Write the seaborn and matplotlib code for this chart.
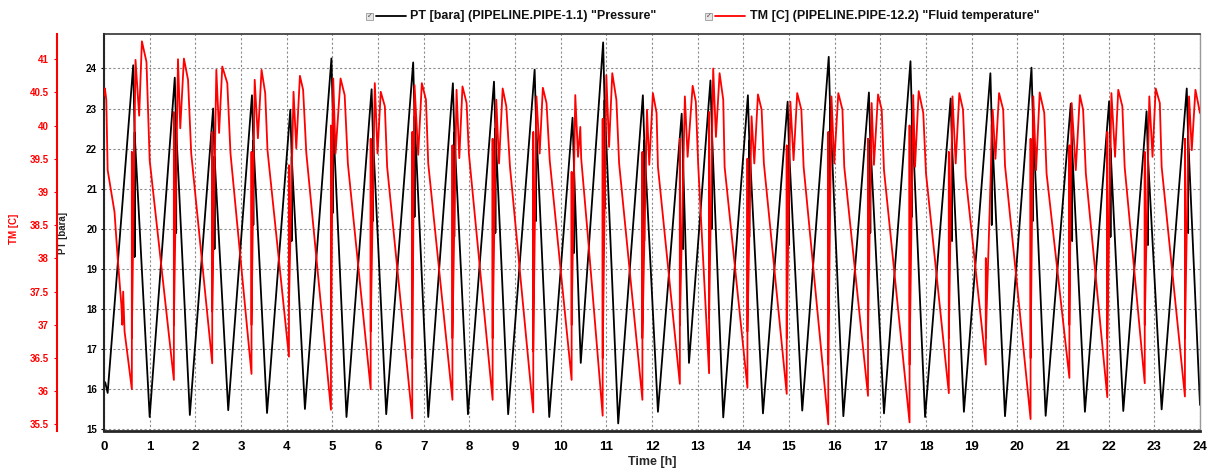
import numpy as np
import pandas as pd
import matplotlib
matplotlib.use("Agg")
import matplotlib.pyplot as plt
from matplotlib.lines import Line2D
from matplotlib.patches import Rectangle
import seaborn as sns

# Valores (tiempo en horas)

# PT [bara] - tramo inicial, valles, picos y caída tras el pico
pt_start_t = [0.00, 0.03]
pt_start_v = [16.2, 16.15]
pt_low_t = [0.08, 1.00, 1.88, 2.72, 3.57, 4.40, 5.31, 6.18, 7.10, 7.97, 8.85, 9.75, 10.44, 11.26,
            12.13, 12.81, 13.56, 14.43, 15.29, 16.19, 17.08, 17.98, 18.83, 19.73, 20.62, 21.48, 22.32, 23.16]
pt_low_v = [15.9, 15.3, 15.35, 15.47, 15.4, 15.5, 15.3, 15.37, 15.3, 15.37, 15.37, 15.3, 16.65, 15.14,
            15.43, 16.65, 15.29, 15.39, 15.46, 15.32, 15.39, 15.3, 15.43, 15.32, 15.33, 15.43, 15.45, 15.49]
pt_high_t = [0.64, 1.55, 2.39, 3.24, 4.08, 4.98, 5.86, 6.77, 7.64, 8.54, 9.43, 10.26, 10.93, 11.80,
             12.65, 13.28, 14.10, 14.97, 15.87, 16.75, 17.66, 18.54, 19.41, 20.31, 21.17, 22.01, 22.83, 23.71]
pt_high_v = [24.08, 23.77, 23.0, 23.33, 22.97, 24.25, 23.48, 24.15, 23.63, 23.67, 23.97, 22.77, 24.65, 23.33,
             22.87, 23.7, 23.33, 23.17, 24.29, 23.4, 24.18, 23.25, 23.88, 24.02, 23.12, 23.18, 22.93, 23.5]
pt_drop_t = [0.67, 1.58, 2.42, 3.27, 4.11, 5.01, 5.89, 6.80, 7.67, 8.57, 9.46, 10.29, 10.96, 11.83,
             12.68, 13.31, 14.13, 15.00, 15.90, 16.78, 17.69, 18.57, 19.44, 20.34, 21.20, 22.04, 22.86, 23.74]
pt_drop_top = [22.4, 22.5, 21.8, 22.2, 21.8, 22.9, 22.3, 22.8, 22.4, 22.5, 22.7, 21.6, 23.2, 22.2,
               21.7, 22.5, 22.2, 22.0, 23.0, 22.2, 22.9, 22.1, 22.6, 22.8, 22.0, 22.0, 21.8, 22.3]
pt_drop_bot = [19.3, 19.9, 19.5, 20.1, 19.7, 20.4, 20.2, 20.3, 19.8, 19.9, 20.2, 19.4, 20.5, 19.7,
               19.5, 20.0, 19.8, 19.6, 20.4, 19.9, 20.3, 19.7, 20.1, 20.2, 19.7, 19.8, 19.6, 19.9]
pt_end_t = [24.0]
pt_end_v = [15.6]

# TM [C] - tramo inicial y rasgos de cada ciclo
tm_start_t = [0.00, 0.02, 0.05, 0.08, 0.23, 0.30, 0.38, 0.40, 0.42, 0.45]
tm_start_v = [40.45, 40.56, 40.39, 39.33, 38.7, 38.0, 37.3, 37.0, 37.5, 36.9]
tm_low_t = [0.61, 1.53, 2.37, 3.23, 4.05, 4.97, 5.84, 6.75, 7.63, 8.51, 9.40, 10.24, 10.92, 11.79,
            12.61, 13.25, 14.09, 14.95, 15.86, 16.73, 17.64, 18.50, 19.31, 20.29, 21.14, 21.97, 22.79, 23.67]
tm_low_v = [36.03, 36.17, 36.42, 36.26, 36.52, 35.72, 36.03, 35.59, 35.87, 35.87, 35.68, 36.17, 35.63, 35.87,
            36.11, 36.27, 36.05, 35.96, 35.50, 35.93, 35.53, 35.97, 36.40, 35.58, 36.20, 35.91, 36.12, 35.92]
tm_pre_v = [39.6, 40.2, 39.9, 39.6, 39.4, 40.0, 39.8, 39.9, 39.7, 39.8, 39.9, 39.3, 40.1, 39.6,
            39.8, 40.2, 39.5, 39.7, 39.9, 39.8, 40.0, 39.6, 38.0, 39.8, 39.7, 39.9, 39.6, 39.8]
tm_back_v = [36.8, 37.0, 37.2, 37.0, 37.3, 36.6, 36.9, 36.5, 36.8, 36.8, 36.6, 37.0, 36.5, 36.8,
             37.0, 37.1, 36.9, 36.8, 36.4, 36.8, 36.4, 36.8, 36.8, 36.5, 37.0, 36.8, 37.0, 36.8]
tm_spike_t = [0.69, 1.62, 2.46, 3.30, 4.15, 5.02, 5.93, 6.80, 7.72, 8.59, 9.47, 10.32, 11.00, 11.89,
              12.72, 13.34, 14.18, 15.03, 15.93, 16.81, 17.72, 18.58, 19.46, 20.35, 21.19, 22.06, 22.89, 23.76]
tm_spike_v = [40.99, 41.00, 40.84, 40.69, 40.51, 40.71, 40.64, 40.61, 40.54, 40.39, 40.44, 40.46, 40.76, 40.24,
              40.44, 40.86, 40.14, 40.36, 40.44, 40.34, 40.46, 40.44, 40.24, 40.44, 40.34, 40.49, 40.44, 40.44]
tm_dip_t = [0.77, 1.67, 2.52, 3.37, 4.21, 5.07, 5.99, 6.88, 7.78, 8.65, 9.54, 10.38, 11.06, 11.94,
            12.78, 13.40, 14.24, 15.10, 15.99, 16.86, 17.76, 18.65, 19.52, 20.41, 21.28, 22.14, 22.96, 23.82]
tm_dip_v = [40.15, 39.96, 39.89, 39.81, 39.66, 39.58, 39.58, 39.56, 39.51, 39.43, 39.58, 39.53, 39.68, 39.41,
            39.53, 39.83, 39.43, 39.48, 39.43, 39.41, 39.38, 39.43, 39.50, 39.33, 39.33, 39.53, 39.53, 39.63]
tm_hump_t = [0.83, 1.75, 2.59, 3.45, 4.29, 5.18, 6.06, 6.96, 7.85, 8.73, 9.61, 10.43, 11.13, 12.02,
             12.89, 13.48, 14.32, 15.18, 16.08, 16.95, 17.84, 18.73, 19.60, 20.49, 21.37, 22.21, 23.03, 23.90]
tm_hump_v = [41.27, 41.01, 40.89, 40.84, 40.75, 40.71, 40.51, 40.64, 40.59, 40.56, 40.57, 39.98, 40.79, 40.49,
             40.60, 40.79, 40.47, 40.49, 40.49, 40.47, 40.52, 40.49, 40.49, 40.50, 40.46, 40.54, 40.56, 40.54]
tm_shoulder_t = [0.93, 1.84, 2.70, 3.53, 4.36, 5.27, 6.15, 7.05, 7.94, 8.81, 9.69, 10.45, 11.22, 12.10,
                 12.96, 13.56, 14.40, 15.27, 16.17, 17.03, 17.94, 18.81, 19.69, 20.59, 21.44, 22.30, 23.12, 24.00]
tm_shoulder_v = [40.96, 40.69, 40.64, 40.49, 40.54, 40.46, 40.29, 40.39, 40.34, 40.29, 40.34, 39.50, 40.39, 40.19,
                 40.36, 40.39, 40.24, 40.24, 40.24, 40.24, 40.19, 40.24, 40.24, 40.19, 40.24, 40.29, 40.34, 40.19]
tm_drop_t = [1.00, 1.91, 2.77, 3.58, 4.43, 5.34, 6.20, 7.10, 7.99, 8.89, 9.76, 10.60, 11.28, 12.13,
             13.01, 13.59, 14.45, 15.32, 16.21, 17.08, 18.00, 18.87, 19.73, 20.64, 21.50, 22.35, 23.16]
tm_drop_v = [39.48, 39.58, 39.58, 39.63, 39.59, 39.43, 39.38, 39.43, 39.58, 39.38, 39.48, 38.30, 39.43, 39.38,
             39.43, 39.38, 39.43, 39.38, 39.38, 39.33, 39.28, 39.23, 39.40, 39.28, 39.28, 39.38, 39.38]

pt_ticks = [15, 16, 17, 18, 19, 20, 21, 22, 23, 24]
tm_ticks = [35.5, 36, 36.5, 37, 37.5, 38, 38.5, 39, 39.5, 40, 40.5, 41]
hours = list(range(25))

# Armar las series en orden
pt_t = list(pt_start_t)
pt_v = list(pt_start_v)
for i in range(len(pt_low_t)):
    pt_t += [pt_low_t[i], pt_high_t[i], pt_drop_t[i], pt_drop_t[i], pt_drop_t[i]]
    pt_v += [pt_low_v[i], pt_high_v[i], pt_drop_top[i], pt_drop_bot[i], pt_drop_top[i]]
pt_t += pt_end_t
pt_v += pt_end_v
df_pt = pd.DataFrame({"time": pt_t, "PT": pt_v})

tm_t = list(tm_start_t)
tm_v = list(tm_start_v)
for i in range(len(tm_low_t)):
    tm_t += [tm_low_t[i], tm_low_t[i], tm_low_t[i], tm_spike_t[i],
             tm_dip_t[i], tm_hump_t[i], tm_shoulder_t[i]]
    tm_v += [tm_low_v[i], tm_pre_v[i], tm_back_v[i], tm_spike_v[i],
             tm_dip_v[i], tm_hump_v[i], tm_shoulder_v[i]]
    if i < len(tm_drop_t):
        tm_t.append(tm_drop_t[i])
        tm_v.append(tm_drop_v[i])
df_tm = pd.DataFrame({"time": tm_t, "TM": tm_v})

sns.set_style("white")
plt.rcParams['font.family'] = ['Liberation Sans', 'DejaVu Sans']
plt.rcParams['font.weight'] = 'bold'

W, H = 1211, 472
fig = plt.figure(figsize=(W / 100, H / 100), dpi=100)
ax = fig.add_axes([104 / W, 1 - 431 / H, 1096 / W, 397 / H])
ax2 = ax.twinx()

sns.lineplot(data=df_pt, x="time", y="PT", ax=ax, color="black", linewidth=1.3,
             estimator=None, sort=False)
sns.lineplot(data=df_tm, x="time", y="TM", ax=ax2, color="#ff0000", linewidth=1.3,
             estimator=None, sort=False)

# Eje principal (PT)
ax.set_xlim(0, 24)
ax.set_ylim(14.95, 24.86)
ax.set_xticks(hours)
ax.set_yticks(pt_ticks)
ax.grid(True, color="#8c8c8c", linestyle=(0, (2, 2)), linewidth=0.8)
ax.set_axisbelow(True)
ax.tick_params(axis="x", labelsize=9.5, length=3, pad=4, colors="black")
ax.tick_params(axis="y", labelsize=7, length=2, pad=3, colors="black")
for lab in ax.get_xticklabels() + ax.get_yticklabels():
    lab.set_fontweight("bold")
ax.set_xlabel("Time [h]", fontsize=9, fontweight="bold", labelpad=2)
ax.set_ylabel("PT [bara]", fontsize=7, fontweight="bold")
ax.yaxis.set_label_coords(-36 / 1096, 0.5)
ax.spines["left"].set_linewidth(1.5)
ax.spines["bottom"].set_linewidth(2)
ax.spines["top"].set_color("#333333")
ax.spines["top"].set_linewidth(1.2)
ax.spines["right"].set_color("#999999")
ax.spines["right"].set_linewidth(1)

# Eje secundario (TM) a la izquierda
ax2.set_ylim(35.4, 41.38)
ax2.set_yticks(tm_ticks)
ax2.set_yticklabels(["{:g}".format(v) for v in tm_ticks])
ax2.yaxis.tick_left()
ax2.yaxis.set_label_position("left")
ax2.spines["left"].set_position(("axes", -47 / 1096))
ax2.spines["left"].set_visible(True)
ax2.spines["left"].set_color("#ff0000")
ax2.spines["left"].set_linewidth(1.5)
for s in ["right", "top", "bottom"]:
    ax2.spines[s].set_visible(False)
ax2.tick_params(axis="y", labelsize=7, length=2, pad=4, colors="#ff0000")
for lab in ax2.get_yticklabels():
    lab.set_fontweight("bold")
ax2.set_ylabel("TM [C]", fontsize=7, fontweight="bold", color="#ff0000")
ax2.yaxis.set_label_coords(-85 / 1096, 0.51)

# Leyenda superior con casillas
ly = 1 - 16 / H
for bx, lx0, lx1, tx, col, txt in [
    (366, 376, 406, 410, "black", 'PT [bara] (PIPELINE.PIPE-1.1) "Pressure"'),
    (705, 715, 745, 750, "#ff0000", 'TM [C] (PIPELINE.PIPE-12.2) "Fluid temperature"'),
]:
    fig.add_artist(Rectangle((bx / W, 1 - 19.5 / H), 7 / W, 7 / H, transform=fig.transFigure,
                             facecolor="#e6e6e6", edgecolor="#9a9a9a", linewidth=0.6))
    fig.text((bx + 3.5) / W, 1 - 16 / H, "✓", fontsize=5, color="#444444",
             ha="center", va="center", family=["DejaVu Sans"])
    fig.add_artist(Line2D([lx0 / W, lx1 / W], [ly, ly], transform=fig.transFigure,
                          color=col, linewidth=1.3))
    fig.text(tx / W, ly, txt, fontsize=9, fontweight="bold", color="#111111",
             ha="left", va="center")

fig.savefig("out.png", dpi=100)
